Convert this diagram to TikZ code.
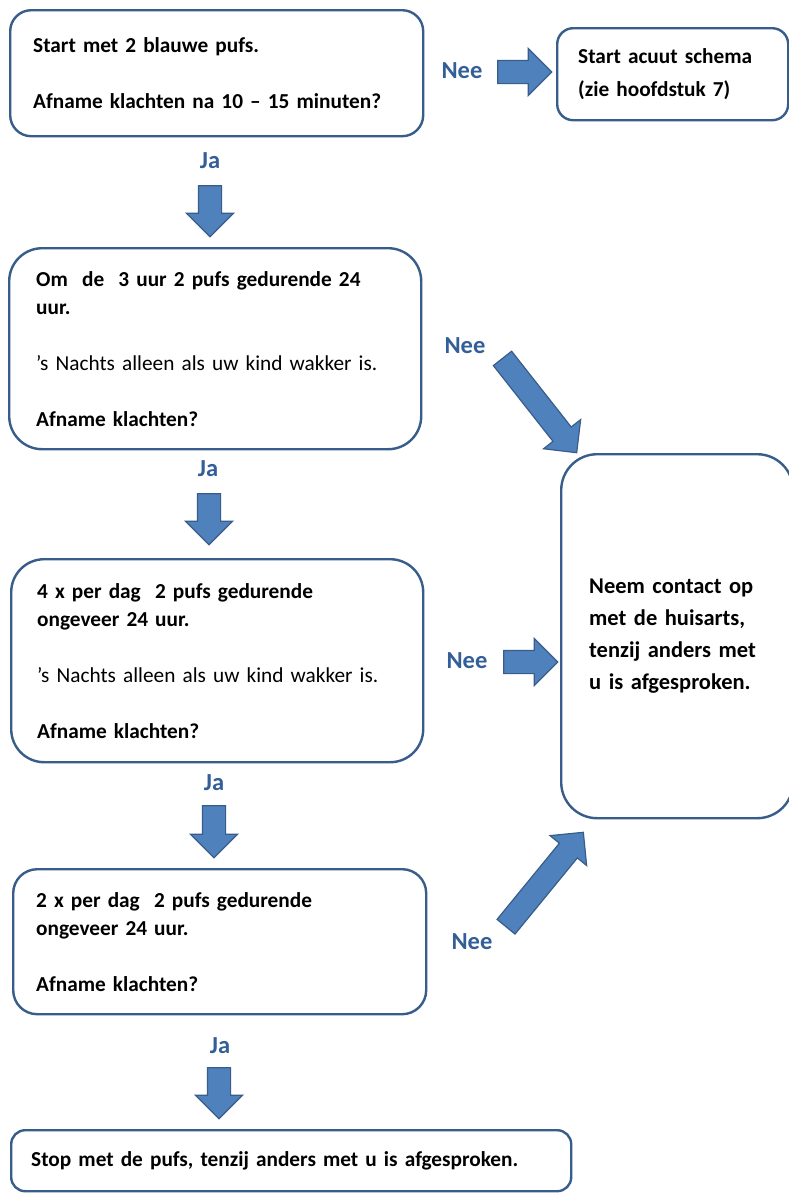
\documentclass[tikz,border=0pt]{standalone}
\usepackage{fontspec}
\setmainfont{Carlito}
\usetikzlibrary{shapes.arrows}
\definecolor{boxline}{RGB}{56,93,138}
\definecolor{arrowfill}{RGB}{79,129,189}
\definecolor{arrowline}{RGB}{56,93,138}
\definecolor{lblcol}{RGB}{52,94,152}
\tikzset{
  box/.style={draw=boxline, line width=2.4pt, fill=white, anchor=north west,
    align=left, inner ysep=0pt, font=\fontsize{21.3}{28}\selectfont\bfseries},
  blockarrow/.style={single arrow, draw=arrowline, fill=arrowfill, line width=1.2pt,
    inner xsep=0pt, inner ysep=11pt, single arrow head extend=12pt,
    single arrow tip angle=90, minimum width=0pt, anchor=center},
  lbl/.style={text=lblcol, font=\fontsize{24.5}{26}\selectfont\bfseries, inner sep=0pt}
}
\newcommand{\regline}[1]{{\mdseries #1}}
\begin{document}
\begin{tikzpicture}[x=1pt,y=-1pt]
\fill[white] (0,0) rectangle (788,1195);
\useasboundingbox (0,0) rectangle (788,1195);

% boxes
\node[box, rounded corners=21pt, minimum width=413pt, minimum height=126pt,
  inner xsep=23pt, text width=367pt] (b1) at (9,9)
  {Start met 2 blauwe pufs.\\[28pt]Afname klachten na 10 -- 15 minuten?};
\node[box, rounded corners=16pt, minimum width=231pt, minimum height=92pt,
  inner xsep=21pt, text width=189pt] (b2) at (556,27)
  {Start acuut schema\\[5pt](zie hoofdstuk 7)};
\node[box, rounded corners=33pt, minimum width=412pt, minimum height=201pt,
  inner xsep=27pt, text width=358pt] (b3) at (8,247)
  {Om\ \ de\ \ 3 uur 2 pufs gedurende 24\\uur.\\[28pt]\regline{’s Nachts alleen als uw kind wakker is.}\\[28pt]Afname klachten?};
\node[box, rounded corners=36pt, minimum width=232pt, minimum height=364pt,
  inner xsep=28pt, text width=176pt, font=\fontsize{22.5}{32}\selectfont\bfseries] (b7) at (560,453)
  {Neem contact op\\met de huisarts,\\tenzij anders met\\u is afgesproken.};
\node[box, rounded corners=33pt, minimum width=412pt, minimum height=203pt,
  inner xsep=26pt, text width=360pt] (b4) at (10,558)
  {4 x per dag\ \ 2 pufs gedurende\\ongeveer 24 uur.\\[28pt]\regline{’s Nachts alleen als uw kind wakker is.}\\[28pt]Afname klachten?};
\node[box, rounded corners=24pt, minimum width=413pt, minimum height=145pt,
  inner xsep=23pt, text width=367pt] (b5) at (12,868)
  {2 x per dag\ \ 2 pufs gedurende\\ongeveer 24 uur.\\[28pt]Afname klachten?};
\node[box, rounded corners=14pt, minimum width=560pt, minimum height=61pt,
  inner xsep=20pt, text width=520pt] (b6) at (10,1129)
  {Stop met de pufs, tenzij anders met u is afgesproken.};

% labels
\node[lbl] (n1) at (462,71) {Nee};
\node[lbl] (j1) at (210,161) {Ja};
\node[lbl] (n2) at (465,346) {Nee};
\node[lbl] (j2) at (208,469) {Ja};
\node[lbl] (n3) at (467,661) {Nee};
\node[lbl] (j3) at (214,783) {Ja};
\node[lbl] (n4) at (472,942) {Nee};
\node[lbl] (j4) at (220,1046) {Ja};

% block arrows
\node[blockarrow, minimum height=54pt] (a1) at (519,72) {};
\node[blockarrow, minimum height=51pt, rotate=-90] (a2) at (210,205.5) {};
\node[blockarrow, minimum height=120pt, rotate=-51.8] (a3) at (536,401) {};
\node[blockarrow, minimum height=51pt, rotate=-90] (a4) at (209,513.5) {};
\node[blockarrow, minimum height=54pt] (a5) at (525,662) {};
\node[blockarrow, minimum height=52pt, rotate=-90] (a6) at (214,826) {};
\node[blockarrow, minimum height=122pt, rotate=50.7] (a7) at (541,884) {};
\node[blockarrow, minimum height=51pt, rotate=-90] (a8) at (219,1087.5) {};
\end{tikzpicture}
\end{document}
